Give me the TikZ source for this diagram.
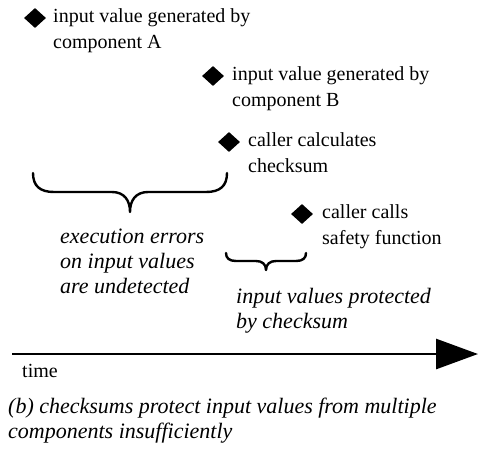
\documentclass[tikz,border=0pt]{standalone}
\usepackage{fontspec}
\setmainfont{Liberation Serif}
\newfontfamily\tnr{Liberation Serif}
\usetikzlibrary{shapes.geometric,arrows.meta}
\begin{document}
\begin{tikzpicture}[x=1pt,y=-1pt,
  evt/.style={diamond,fill=black,inner sep=0pt,minimum width=22pt,minimum height=20pt},
  lbl/.style={anchor=north west,inner sep=0pt,align=left,font=\tnr\fontsize{20}{26}\selectfont},
  note/.style={anchor=north west,inner sep=0pt,align=left,font=\tnr\fontsize{22}{25}\selectfont\itshape},
  bracepath/.style={line width=2.4pt,line cap=round,line join=round},
  timeline/.style={line width=2.8pt,-{Triangle[length=42pt,width=30pt]}}]
\useasboundingbox (0,0) rectangle (478,456);
% events
\node[evt] (dA) at (35,18) {};
\node[lbl] (tA) at (53,8) {input value generated by\\component A};
\node[evt] (dB) at (213,76) {};
\node[lbl] (tB) at (232,66) {input value generated by\\component B};
\node[evt] (dC) at (229,142) {};
\node[lbl] (tC) at (248,132) {caller calculates\\checksum};
\node[evt] (dD) at (302,214) {};
\node[lbl] (tD) at (322,204) {caller calls\\safety function};
% big brace
\coordinate (b1l) at (33,173);
\coordinate (b1m) at (130,212);
\coordinate (b1r) at (227,173);
\draw[bracepath] (b1l) .. controls (33,186) and (40,192) .. (54,192)
  -- (112,192) .. controls (124,192) and (130,200) .. (b1m)
  .. controls (130,200) and (136,192) .. (148,192)
  -- (206,192) .. controls (220,192) and (227,186) .. (b1r);
\node[note] (n1) at (60,229) {execution errors\\on input values\\are undetected};
% small brace
\coordinate (b2l) at (226,253);
\coordinate (b2m) at (266,270);
\coordinate (b2r) at (306,253);
\draw[bracepath] (b2l) .. controls (226,258) and (229,261) .. (236,261)
  -- (256,261) .. controls (262,261) and (266,264) .. (b2m)
  .. controls (266,264) and (270,261) .. (276,261)
  -- (296,261) .. controls (303,261) and (306,258) .. (b2r);
\node[note] (n2) at (236,288) {input values protected\\by checksum};
% time axis
\coordinate (t0) at (12,354);
\coordinate (t1) at (478,354);
\draw[timeline] (t0) -- (t1);
\node[lbl] (time) at (22,364) {time};
\node[note] (cap) at (8,398) {(b) checksums protect input values from multiple\\components insufficiently};
\end{tikzpicture}
\end{document}
